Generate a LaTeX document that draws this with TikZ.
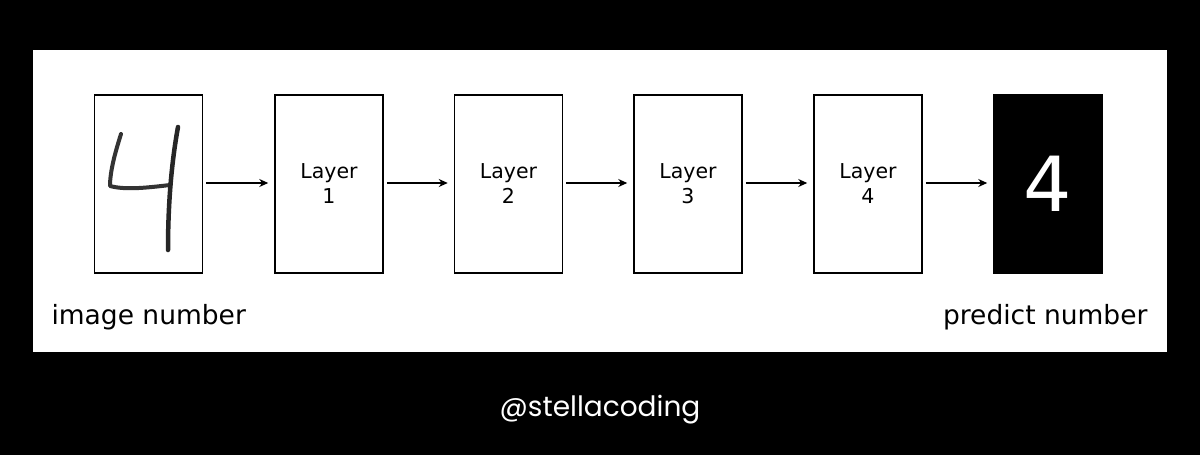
\documentclass[tikz,border=0pt]{standalone}
\usepackage{fontspec}
\setmainfont{DejaVu Sans}
\newfontfamily\credfont{Poppins}
\usetikzlibrary{arrows.meta}
\begin{document}
\begin{tikzpicture}[x=1pt,y=-1pt,
  box/.style={draw=black,line width=1.5pt,minimum width=108pt,minimum height=178pt,inner sep=0pt},
  arr/.style={-{Stealth[length=9pt,width=8pt]},line width=1.4pt},
  lbl/.style={font=\fontsize{20.5}{25}\selectfont,align=center}]
\fill[black] (0,0) rectangle (1200,455);
\useasboundingbox (0,0) rectangle (1200,455);
\fill[white] (33,50) rectangle (1167,352);
\node[box] (b0) at (148.5,184) {};
\node[box,lbl] (b1) at (329,184) {Layer\\1};
\node[box,lbl] (b2) at (508.5,184) {Layer\\2};
\node[box,lbl] (b3) at (688,184) {Layer\\3};
\node[box,lbl] (b4) at (868,184) {Layer\\4};
\node[box,fill=black,text=white,font=\fontsize{76}{78}\selectfont] (b5) at (1048,184) {4};
\foreach \a/\b in {b0/b1,b1/b2,b2/b3,b3/b4,b4/b5}
  \draw[arr] ([xshift=3pt,yshift=1pt]\a.east) -- ([xshift=-6pt,yshift=1pt]\b.west);
% handwritten 4
\draw[line width=4pt,black!80,line cap=round,line join=round]
  (121,134) .. controls (116,150) and (110,170) .. (110,186)
  .. controls (125,190) and (145,188) .. (170,185);
\draw[line width=4.5pt,black!85,line cap=round]
  (178,127) .. controls (172,160) and (168,200) .. (168,250);
\node[font=\fontsize{26.5}{30}\selectfont,anchor=west] (t0) at (48,317) {image number};
\node[font=\fontsize{26.5}{30}\selectfont,anchor=east] (t1) at (1151,317) {predict number};
\node[text=white,font=\credfont\fontsize{28}{30}\selectfont] (cr) at (600,410) {@stellacoding};
\end{tikzpicture}
\end{document}
